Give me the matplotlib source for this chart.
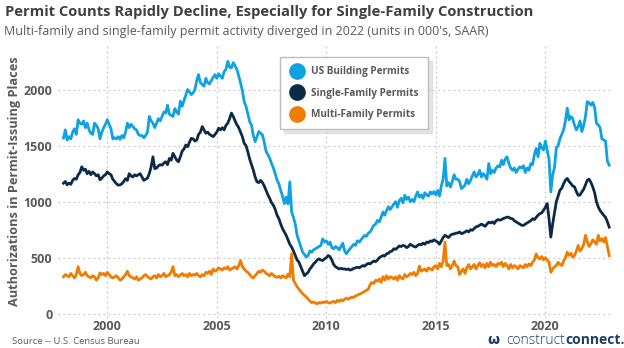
import numpy as np
import matplotlib
matplotlib.use("Agg")
import matplotlib.pyplot as plt
from matplotlib.lines import Line2D

plt.rcParams['font.family'] = ['Open Sans', 'DejaVu Sans']

# monthly permits, Jan 1998 - Dec 2022, thousands SAAR
start_year = 1998

total = [
    1568, 1640, 1550, 1580, 1560, 1620, 1650, 1600, 1730, 1700, 1690, 1720,  # 1998
    1660, 1700, 1640, 1610, 1600, 1700, 1680, 1650, 1560, 1620, 1660, 1690,  # 1999
    1730, 1690, 1650, 1560, 1570, 1560, 1580, 1555, 1590, 1570, 1620, 1700,  # 2000
    1660, 1690, 1670, 1650, 1640, 1600, 1590, 1590, 1570, 1590, 1620, 1760,  # 2001
    1720, 1700, 1660, 1700, 1740, 1720, 1760, 1800, 1790, 1860, 1780, 1770,  # 2002
    1760, 1830, 1800, 1780, 1895, 1850, 1900, 1950, 2000, 1980, 1955, 1970,  # 2003
    2000, 2080, 2133, 2060, 2045, 2030, 2100, 2060, 2050, 2080, 2110, 2133,  # 2004
    2100, 2140, 2120, 2100, 2160, 2180, 2252, 2200, 2193, 2240, 2210, 2180,  # 2005
    2120, 2060, 1990, 1893, 1850, 1780, 1714, 1680, 1590, 1535, 1580, 1625,  # 2006
    1610, 1596, 1530, 1447, 1420, 1385, 1340, 1300, 1250, 1192, 1160, 1100,  # 2007
    1050, 983, 1040, 980, 1177, 908, 860, 800, 699, 650, 600, 550,  # 2008
    530, 505, 520, 560, 550, 570, 580, 590, 600, 610, 669, 640,  # 2009
    650, 620, 640, 590, 580, 600, 590, 570, 600, 630, 560, 535,  # 2010
    560, 580, 600, 620, 610, 650, 640, 660, 680, 700, 690, 720,  # 2011
    730, 760, 788, 800, 833, 820, 860, 908, 880, 920, 955, 930,  # 2012
    955, 980, 1000, 950, 1010, 1030, 990, 1057, 1020, 1040, 1000, 1020,  # 2013
    1000, 1050, 1087, 1040, 1060, 1030, 1080, 1060, 1050, 1087, 1070, 1090,  # 2014
    1060, 1100, 1050, 1140, 1200, 1386, 1140, 1170, 1130, 1180, 1240, 1200,  # 2015
    1200, 1180, 1117, 1130, 1150, 1200, 1160, 1190, 1230, 1266, 1220, 1240,  # 2016
    1280, 1220, 1251, 1230, 1200, 1340, 1250, 1280, 1260, 1300, 1320, 1310,  # 2017
    1370, 1330, 1380, 1400, 1340, 1300, 1280, 1300, 1260, 1290, 1310, 1300,  # 2018
    1320, 1260, 1300, 1280, 1340, 1330, 1420, 1475, 1400, 1520, 1480, 1460,  # 2019
    1540, 1460, 1380, 1087, 1240, 1300, 1480, 1500, 1560, 1600, 1640, 1720,  # 2020
    1834, 1730, 1760, 1740, 1680, 1640, 1670, 1720, 1625, 1680, 1760, 1893,  # 2021
    1880, 1860, 1885, 1840, 1700, 1685, 1660, 1560, 1550, 1540, 1360, 1326,  # 2022
]

single_family = [
    1165, 1180, 1150, 1165, 1155, 1190, 1207, 1200, 1240, 1260, 1311, 1280,  # 1998
    1290, 1250, 1270, 1240, 1265, 1250, 1230, 1240, 1195, 1210, 1230, 1240,  # 1999
    1265, 1250, 1240, 1200, 1180, 1160, 1147, 1150, 1160, 1180, 1205, 1190,  # 2000
    1250, 1230, 1220, 1240, 1230, 1240, 1250, 1220, 1190, 1200, 1210, 1250,  # 2001
    1310, 1400, 1295, 1300, 1320, 1330, 1325, 1345, 1356, 1330, 1385, 1370,  # 2002
    1431, 1400, 1370, 1356, 1400, 1450, 1470, 1505, 1490, 1530, 1565, 1560,  # 2003
    1540, 1550, 1600, 1620, 1670, 1640, 1610, 1620, 1600, 1590, 1580, 1600,  # 2004
    1620, 1655, 1640, 1660, 1640, 1680, 1700, 1740, 1790, 1760, 1720, 1686,  # 2005
    1660, 1620, 1580, 1520, 1500, 1445, 1380, 1330, 1281, 1220, 1177, 1170,  # 2006
    1190, 1170, 1140, 1100, 1060, 1028, 990, 968, 930, 880, 848, 800,  # 2007
    760, 729, 700, 660, 620, 594, 560, 520, 480, 460, 420, 380,  # 2008
    340, 355, 370, 400, 420, 445, 460, 480, 490, 480, 475, 490,  # 2009
    500, 520, 510, 480, 440, 420, 410, 400, 405, 400, 400, 395,  # 2010
    400, 390, 395, 405, 410, 415, 410, 420, 430, 425, 440, 450,  # 2011
    445, 460, 470, 465, 480, 500, 510, 520, 515, 535, 540, 555,  # 2012
    560, 580, 575, 590, 605, 600, 610, 605, 590, 600, 620, 610,  # 2013
    600, 595, 610, 620, 615, 630, 620, 640, 635, 650, 645, 660,  # 2014
    650, 640, 620, 650, 680, 700, 690, 680, 700, 710, 712, 720,  # 2015
    720, 730, 715, 720, 730, 740, 730, 750, 745, 760, 775, 780,  # 2016
    790, 800, 790, 780, 800, 818, 810, 820, 805, 830, 840, 835,  # 2017
    840, 850, 855, 863, 860, 850, 848, 830, 820, 810, 800, 790,  # 2018
    788, 800, 810, 820, 830, 848, 840, 860, 880, 893, 900, 923,  # 2019
    950, 983, 850, 684, 800, 900, 998, 1050, 1102, 1120, 1160, 1192,  # 2020
    1207, 1180, 1162, 1140, 1132, 1090, 1057, 1060, 1087, 1110, 1150, 1192,  # 2021
    1200, 1170, 1130, 1080, 1000, 953, 920, 900, 878, 860, 820, 773,  # 2022
]

multi_family = [
    330, 350, 340, 330, 360, 340, 320, 350, 420, 360, 340, 350,  # 1998
    370, 340, 330, 320, 340, 330, 300, 320, 365, 350, 360, 340,  # 1999
    370, 350, 330, 320, 330, 340, 320, 300, 310, 330, 350, 380,  # 2000
    340, 330, 320, 310, 330, 300, 310, 320, 340, 350, 330, 320,  # 2001
    310, 330, 340, 320, 350, 330, 340, 360, 330, 340, 350, 370,  # 2002
    420, 340, 350, 330, 345, 360, 340, 350, 330, 360, 340, 350,  # 2003
    345, 360, 340, 330, 350, 340, 370, 360, 380, 350, 400, 380,  # 2004
    390, 410, 400, 390, 410, 400, 420, 390, 400, 410, 420, 400,  # 2005
    430, 475, 420, 400, 380, 370, 350, 330, 320, 340, 360, 380,  # 2006
    370, 390, 380, 360, 350, 340, 360, 345, 330, 325, 335, 320,  # 2007
    340, 330, 320, 355, 330, 535, 300, 270, 240, 220, 200, 180,  # 2008
    165, 150, 130, 115, 100, 105, 95, 90, 100, 95, 105, 100,  # 2009
    110, 100, 95, 105, 110, 100, 120, 110, 125, 115, 130, 140,  # 2010
    130, 140, 150, 145, 160, 165, 175, 180, 190, 200, 210, 220,  # 2011
    260, 280, 270, 300, 290, 310, 280, 330, 300, 340, 310, 330,  # 2012
    325, 310, 330, 300, 340, 320, 310, 350, 330, 340, 360, 350,  # 2013
    370, 340, 360, 425, 380, 390, 400, 380, 410, 400, 390, 420,  # 2014
    430, 400, 450, 420, 470, 640, 430, 440, 400, 430, 470, 430,  # 2015
    420, 350, 380, 400, 360, 410, 440, 400, 420, 440, 400, 430,  # 2016
    455, 420, 440, 410, 450, 420, 460, 430, 440, 420, 450, 440,  # 2017
    460, 420, 450, 430, 400, 440, 410, 430, 420, 400, 430, 420,  # 2018
    410, 440, 420, 445, 430, 460, 480, 535, 500, 490, 510, 480,  # 2019
    500, 480, 460, 370, 400, 420, 430, 460, 440, 430, 470, 500,  # 2020
    550, 520, 540, 505, 520, 560, 610, 560, 580, 620, 700, 640,  # 2021
    600, 625, 660, 640, 620, 700, 650, 670, 640, 680, 600, 520,  # 2022
]

series_names = ["US Building Permits", "Single-Family Permits", "Multi-Family Permits"]
colors = ["#0ea2e3", "#0b2a45", "#f07c00"]
year_ticks = [2000, 2005, 2010, 2015, 2020]
value_ticks = [0, 500, 1000, 1500, 2000]

months = start_year + np.arange(len(total)) / 12.0

fig = plt.figure(figsize=(6.24, 3.48), dpi=100)
ax = fig.add_axes([0.093, 0.087, 0.888, 0.783])

for vals, c in zip([total, single_family, multi_family], colors):
    ax.plot(months, vals, color=c, lw=2.0, solid_joinstyle="round")

ax.set_xlim(1997.75, 2023.05)
ax.set_ylim(-35, 2395)
ax.set_xticks(year_ticks)
ax.set_yticks(value_ticks)
ax.grid(True, color="#c8c8c8", linestyle=(0, (1.5, 2.5)), lw=0.9)
ax.set_axisbelow(True)
for s in ax.spines.values():
    s.set_visible(False)
ax.tick_params(length=0, labelsize=9, labelcolor="#595959", pad=4)
ax.tick_params(axis="x", pad=1.5)
for lab in ax.get_xticklabels() + ax.get_yticklabels():
    lab.set_fontweight("bold")
ax.set_ylabel("Authorizations in Permit-Issuing Places", fontsize=9.2,
              fontweight="bold", color="#595959", labelpad=2)

handles = [Line2D([], [], ls="none", marker="o", ms=11, color=c) for c in colors]
leg = ax.legend(handles, series_names, loc="upper left",
                bbox_to_anchor=(0.441, 0.85), bbox_transform=fig.transFigure,
                frameon=True, fancybox=False, edgecolor="#bdbdbd",
                shadow={"color": "#cfcfcf", "ox": 3, "oy": -3},
                prop={"weight": "bold", "size": 7.2}, labelcolor="#595959",
                handletextpad=0.6, borderpad=0.9, labelspacing=1.05,
                handlelength=1.6)

fig.text(0.008, 0.965, "Permit Counts Rapidly Decline, Especially for Single-Family Construction",
         fontsize=10.6, fontweight="bold", color="#404040", va="center")
fig.text(0.006, 0.91, "Multi-family and single-family permit activity diverged in 2022 (units in 000's, SAAR)",
         fontsize=9, color="#595959", va="center")
fig.text(0.019, 0.018, "Source -- U.S. Census Bureau", fontsize=6.8, color="#595959", va="center")

fig.text(0.905, 0.022, "construct", fontsize=10, color="#1e3f66", ha="right", va="center",
         fontweight="light")
fig.text(0.906, 0.022, "connect.", fontsize=10, color="#1e3f66", ha="left", va="center",
         fontweight="bold")
fig.text(0.79, 0.022, "\u03c9", fontsize=10, color="#1e3f66", ha="center", va="center",
         fontweight="bold", family="DejaVu Sans")

fig.savefig("out.png", dpi=100)
